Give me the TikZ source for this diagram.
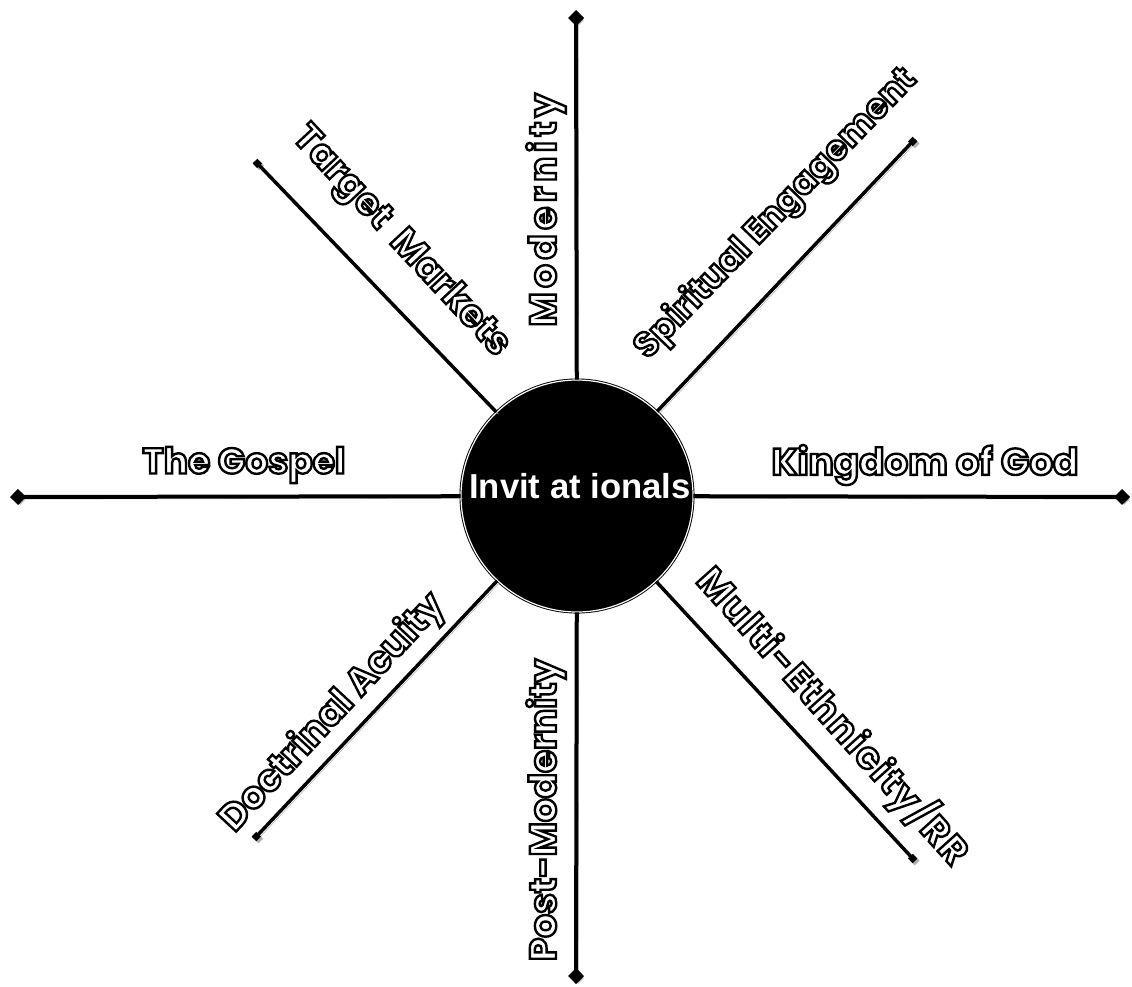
\documentclass[tikz,border=0pt]{standalone}
\usepackage{fontspec}
\usetikzlibrary{arrows.meta}
\newfontfamily\tagfont{Poppins}
\newfontfamily\hubfont{Liberation Sans}
% white letters with a black rim (fill + stroke text mode)
\newcommand{\outlined}[1]{%
  \special{pdf:literal 2 Tr 1.8 w 0 G 1 g}#1\special{pdf:literal 0 Tr 0 g 0 G}}
\tikzset{
  shadowed/.style={preaction={draw=black!30,transform canvas={shift={(1.6pt,-1.6pt)}}}},
  axisline/.style={line width=3pt,-{Diamond[length=12pt,width=12pt]},shadowed},
  diagline/.style={line width=2.6pt,-{Square[length=5pt,width=5pt]},shadowed},
  tag/.style={font=\tagfont\bfseries\fontsize{28}{32}\selectfont,inner sep=0pt},
  hubdisc/.style={circle,fill=black,draw=black,line width=0.7pt,double=white,double distance=0.9pt,minimum size=174pt,inner sep=0pt},
}
\begin{document}
\begin{tikzpicture}[x=0.75pt,y=0.75pt]
\useasboundingbox (0,0) rectangle (1132,-986);
% hub
\node[hubdisc] (hub) at (577,-496) {};
\node[font=\hubfont\bfseries\fontsize{26}{30}\selectfont,text=white,inner sep=0pt] (hubtxt) at (580,-486) {Invit at ionals};
% spoke ends
\coordinate (topend) at (576,-10);
\coordinate (botend) at (576,-984);
\coordinate (leftend) at (10,-497);
\coordinate (rightend) at (1130,-497);
\coordinate (ulend) at (255,-161);
\coordinate (urend) at (915,-139);
\coordinate (llend) at (254,-839);
\coordinate (lrend) at (915,-861);
\foreach \e in {topend,botend,leftend,rightend}
  \draw[axisline] (hub) -- (\e);
\foreach \e in {ulend,urend,llend,lrend}
  \draw[diagline] (hub) -- (\e);
% labels
\node[tag,font=\tagfont\bfseries\fontsize{27}{31}\selectfont] (gospel) at (244,-465) {\outlined{The Gospel}};
\node[tag] (kingdom) at (925,-465) {\outlined{Kingdom of God}};
\node[tag,rotate=90] (modern) at (546,-210) {\addfontfeature{LetterSpace=12}\outlined{Modernity}};
\node[tag,rotate=90] (postmod) at (546,-810) {\outlined{Post-Modernity}};
\node[tag,rotate=-47] (target) at (400,-242) {\outlined{Target\ \ Markets}};
\node[tag,rotate=46,font=\tagfont\bfseries\fontsize{26}{30}\selectfont] (spirit) at (776,-214) {\outlined{Spiritual Engagement}};
\node[tag,rotate=47] (doctrine) at (333,-713) {\outlined{Doctrinal Acuity}};
\node[tag,rotate=-48] (ethnic) at (833,-716) {\addfontfeature{LetterSpace=5}\outlined{Multi-Ethnicity/RR}};
\end{tikzpicture}
\end{document}
